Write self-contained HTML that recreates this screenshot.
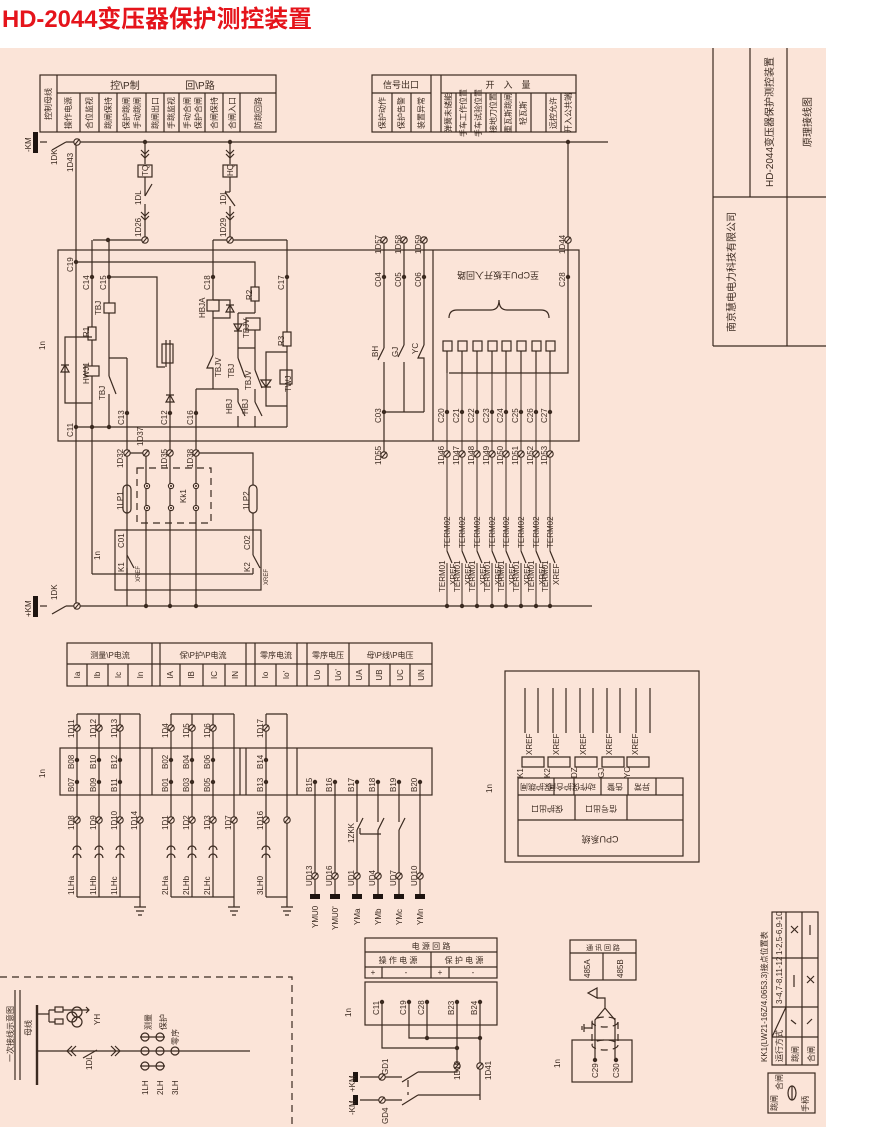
<!DOCTYPE html>
<html><head><meta charset="utf-8">
<style>
html,body{margin:0;padding:0;background:#fff;width:872px;height:1136px;overflow:hidden}
svg{display:block}
svg .s line,svg .s path,svg .s rect,svg .s circle,svg .s polyline,svg .s ellipse{stroke:#3b2a20;stroke-width:1.2;fill:none}
text{fill:#3b2a20;font-family:"Liberation Sans","Noto Sans CJK SC",sans-serif;font-size:8px}
.blk{fill:#1e1410!important}
.d{stroke-dasharray:7 5}
</style></head><body>
<svg width="872" height="1136" viewBox="0 0 872 1136" xmlns="http://www.w3.org/2000/svg">
<defs>
<g id="t"><circle r="3.2" style="fill:#fbe4d8;stroke:#3b2a20;stroke-width:1.1"/><line x1="-2.5" y1="3" x2="2.5" y2="-3" style="stroke:#3b2a20;stroke-width:1.1"/></g>
<g id="n"><circle r="2.2" style="fill:#3b2a20"/></g>
<g id="o"><circle r="2.6" style="fill:#fbe4d8;stroke:#3b2a20;stroke-width:1.1"/><circle r="1" style="fill:#3b2a20"/></g>
</defs>
<rect x="0" y="0" width="872" height="1136" fill="#fff"/>
<rect x="0" y="48" width="826" height="1079" fill="#fbe4d8"/>
<text x="2" y="27" style="font-size:24px;fill:#e5141b;font-weight:bold" textLength="310" lengthAdjust="spacingAndGlyphs">HD-2044变压器保护测控装置</text>

<g class="s">
<rect x="40" y="75" width="236" height="57"/>
<line x1="57" y1="93" x2="276" y2="93"/>
<line x1="57" y1="75" x2="57" y2="132"/>
<line x1="80" y1="93" x2="80" y2="132"/><line x1="99" y1="93" x2="99" y2="132"/><line x1="117" y1="93" x2="117" y2="132"/><line x1="146" y1="93" x2="146" y2="132"/><line x1="164" y1="93" x2="164" y2="132"/><line x1="179" y1="93" x2="179" y2="132"/><line x1="205" y1="93" x2="205" y2="132"/><line x1="223" y1="93" x2="223" y2="132"/><line x1="240" y1="93" x2="240" y2="132"/>
<rect x="372" y="75" width="204" height="57"/>
<line x1="372" y1="93" x2="431" y2="93"/><line x1="441" y1="93" x2="576" y2="93"/>
<line x1="431" y1="75" x2="431" y2="132"/><line x1="441" y1="75" x2="441" y2="132"/>
<line x1="392" y1="93" x2="392" y2="132"/><line x1="411" y1="93" x2="411" y2="132"/>
<line x1="456" y1="93" x2="456" y2="132"/><line x1="471" y1="93" x2="471" y2="132"/><line x1="486" y1="93" x2="486" y2="132"/><line x1="501" y1="93" x2="501" y2="132"/><line x1="516" y1="93" x2="516" y2="132"/><line x1="531" y1="93" x2="531" y2="132"/><line x1="546" y1="93" x2="546" y2="132"/><line x1="561" y1="93" x2="561" y2="132"/>
<line x1="713" y1="48" x2="713" y2="346"/><line x1="750" y1="48" x2="750" y2="197"/><line x1="787" y1="48" x2="787" y2="346"/>
<line x1="713" y1="197" x2="826" y2="197"/><line x1="713" y1="346" x2="826" y2="346"/>

<line x1="40" y1="142" x2="47" y2="142"/>
<line x1="52" y1="150" x2="66" y2="142"/>
<line x1="66" y1="142" x2="608" y2="142"/>
<line x1="76" y1="142" x2="76" y2="606"/>
<line x1="145" y1="142" x2="145" y2="164"/>
<path d="M141 150 l4 4 l4 -4 M141 154 l4 4 l4 -4"/>
<rect x="138" y="165" width="14" height="12"/>
<line x1="145" y1="177" x2="145" y2="196"/><line x1="145" y1="196" x2="152" y2="184"/>
<line x1="145" y1="204" x2="145" y2="240"/>
<path d="M141 212 l4 4 l4 -4 M141 216 l4 4 l4 -4"/>
<line x1="93" y1="240" x2="145" y2="240"/>
<line x1="230" y1="142" x2="230" y2="164"/>
<path d="M226 150 l4 4 l4 -4 M226 154 l4 4 l4 -4"/>
<rect x="223" y="165" width="14" height="12"/>
<line x1="230" y1="177" x2="230" y2="192"/><line x1="225" y1="192" x2="230" y2="192"/><line x1="225" y1="192" x2="235" y2="206"/>
<line x1="230" y1="206" x2="230" y2="240"/>
<path d="M226 212 l4 4 l4 -4 M226 216 l4 4 l4 -4"/>
<line x1="213" y1="240" x2="287" y2="240"/>

<rect x="58" y="250" width="521" height="191"/>
<line x1="433" y1="250" x2="433" y2="441"/>
<line x1="92" y1="240" x2="92" y2="327"/><rect x="88" y="327" width="8" height="13"/><line x1="92" y1="340" x2="92" y2="366"/>
<rect x="85" y="366" width="14" height="10"/><line x1="92" y1="376" x2="92" y2="574"/>
<polyline points="92,337 65,337 65,403 92,403"/><path d="M61 372 l4 -7 l4 7 z M61 365 h8"/>
<line x1="109" y1="240" x2="109" y2="303"/><rect x="104" y="303" width="11" height="10"/><line x1="109" y1="313" x2="109" y2="376"/>
<line x1="109" y1="376" x2="116" y2="394"/><line x1="109" y1="394" x2="109" y2="427"/>
<line x1="109" y1="358" x2="127" y2="358"/><line x1="127" y1="358" x2="127" y2="606"/>
<polyline points="109,277 157,277 157,367 165,367"/>
<rect x="162" y="344" width="11" height="19"/><line x1="166" y1="340" x2="166" y2="367"/>
<line x1="170" y1="340" x2="170" y2="606"/><path d="M166 402 l4 -7 l4 7 z M166 395 h8"/>
<polyline points="76,262 255,262 255,287"/><rect x="251" y="287" width="8" height="14"/><line x1="255" y1="301" x2="255" y2="313"/>
<line x1="238" y1="313" x2="255" y2="313"/><rect x="246" y="318" width="14" height="12"/>
<line x1="238" y1="313" x2="238" y2="348"/><line x1="255" y1="330" x2="255" y2="348"/><line x1="238" y1="348" x2="255" y2="348"/>
<path d="M234 324 l4 7 l4 -7 z M234 331 h8"/>
<line x1="238" y1="348" x2="238" y2="358"/><line x1="238" y1="358" x2="245" y2="377"/>
<line x1="255" y1="348" x2="255" y2="370"/><line x1="255" y1="370" x2="262" y2="388"/>
<line x1="213" y1="240" x2="213" y2="300"/><rect x="207" y="300" width="12" height="11"/><line x1="213" y1="311" x2="213" y2="355"/>
<polyline points="213,300 230,300 230,318 213,318"/><path d="M226 312 l4 -7 l4 7 z M226 305 h8"/>
<polyline points="213,355 207,368 213,368 213,389"/>
<line x1="196" y1="389" x2="238" y2="389"/>
<line x1="196" y1="389" x2="196" y2="606"/>
<line x1="238" y1="389" x2="238" y2="402"/><line x1="238" y1="402" x2="245" y2="416"/><line x1="238" y1="416" x2="238" y2="427"/>
<line x1="255" y1="389" x2="255" y2="402"/><line x1="255" y1="402" x2="262" y2="416"/><line x1="255" y1="416" x2="255" y2="427"/>
<line x1="287" y1="240" x2="287" y2="332"/><rect x="283" y="332" width="8" height="14"/><line x1="287" y1="346" x2="287" y2="427"/>
<polyline points="287,352 266,352 266,406 287,406"/><rect x="280" y="370" width="12" height="14"/>
<path d="M261 380 l5 7 l5 -7 z M261 387 h10"/>
<line x1="76" y1="427" x2="287" y2="427"/>
<line x1="127" y1="453" x2="146" y2="453"/><line x1="146" y1="453" x2="146" y2="606"/>
<polyline points="196,453 253,453 253,485"/><rect x="249" y="485" width="8" height="28" rx="4"/><line x1="253" y1="513" x2="253" y2="535"/>
<rect x="123" y="485" width="8" height="28" rx="4"/>
<rect x="137" y="468" width="74" height="55" class="d"/>
<rect x="115" y="530" width="146" height="60"/>
<line x1="127" y1="555" x2="134" y2="568"/><line x1="127" y1="568" x2="127" y2="574"/>
<line x1="253" y1="535" x2="253" y2="555"/><line x1="253" y1="555" x2="260" y2="568"/><line x1="253" y1="568" x2="253" y2="574"/><line x1="253" y1="574" x2="92" y2="574"/>
<line x1="40" y1="606" x2="47" y2="606"/><line x1="52" y1="614" x2="66" y2="606"/>
<line x1="66" y1="606" x2="592" y2="606"/>
<line x1="384" y1="240" x2="384" y2="348"/><line x1="384" y1="348" x2="378" y2="360"/><line x1="384" y1="362" x2="384" y2="455"/>
<line x1="404" y1="240" x2="404" y2="345"/><line x1="404" y1="345" x2="398" y2="357"/><line x1="404" y1="362" x2="404" y2="412"/>
<line x1="424" y1="240" x2="424" y2="345"/><polyline points="424,345 418,358 424,358 424,412"/>
<line x1="384" y1="412" x2="424" y2="412"/>
<path d="M449 318 q0 -8 8 -8 h34 q8 0 8 -10 q0 10 8 10 h34 q8 0 8 8"/>
<polyline points="568,142 568,373 449,373"/>
</g>

<g class="s">
<rect x="443" y="341" width="9" height="10"/><rect x="458" y="341" width="9" height="10"/><rect x="473" y="341" width="9" height="10"/><rect x="488" y="341" width="9" height="10"/><rect x="502" y="341" width="9" height="10"/><rect x="517" y="341" width="9" height="10"/><rect x="532" y="341" width="9" height="10"/><rect x="546" y="341" width="9" height="10"/>
<path d="M447 351 v22 M462 351 v22 M477 351 v22 M492 351 v22 M506 351 v22 M521 351 v22 M536 351 v22 M550 351 v22"/>
<path d="M447 351 v200 M462 351 v200 M477 351 v200 M492 351 v200 M506 351 v200 M521 351 v200 M536 351 v200 M550 351 v200 M447 563 v43 M462 563 v43 M477 563 v43 M492 563 v43 M506 563 v43 M521 563 v43 M536 563 v43 M550 563 v43" style="stroke-width:1"/>
<path d="M447 551 l5 12 M462 551 l5 12 M477 551 l5 12 M492 551 l5 12 M506 551 l5 12 M521 551 l5 12 M536 551 l5 12 M550 551 l5 12"/>
</g>

<g class="s">
<rect x="67" y="643" width="365" height="43"/>
<line x1="67" y1="664" x2="432" y2="664"/>
<line x1="152" y1="643" x2="152" y2="686"/><line x1="160" y1="643" x2="160" y2="686"/><line x1="246" y1="643" x2="246" y2="686"/><line x1="255" y1="643" x2="255" y2="686"/><line x1="297" y1="643" x2="297" y2="686"/><line x1="307" y1="643" x2="307" y2="686"/><line x1="349" y1="643" x2="349" y2="686"/>
<path d="M87 664v22 M108 664v22 M128 664v22 M180 664v22 M203 664v22 M225 664v22 M276 664v22 M328 664v22 M369 664v22 M390 664v22 M410 664v22"/>
<rect x="60" y="748" width="372" height="47"/>
<path d="M152 748v47 M240 748v47 M246 748v47 M297 748v47"/>
<path d="M77 714v183 M99 714v183 M120 714v183 M140 714v183 M77 714h63 M77 897h63"/>
<path d="M171 714v183 M192 714v183 M213 714v183 M234 714v183 M171 714h63 M171 897h63"/>
<path d="M266 714v183 M287 714v183 M266 714h21 M266 897h21"/>
<path d="M140 897v10 M134 907h12 M136 911h8 M138 915h4 M234 897v10 M228 907h12 M230 911h8 M232 915h4 M287 897v10 M281 907h12 M283 911h8 M285 915h4"/>
<path d="M73 850 a4 4 0 0 1 8 0 M73 858 a4 4 0 0 1 8 0 M95 850 a4 4 0 0 1 8 0 M95 858 a4 4 0 0 1 8 0 M116 850 a4 4 0 0 1 8 0 M116 858 a4 4 0 0 1 8 0 M167 850 a4 4 0 0 1 8 0 M167 858 a4 4 0 0 1 8 0 M188 850 a4 4 0 0 1 8 0 M188 858 a4 4 0 0 1 8 0 M209 850 a4 4 0 0 1 8 0 M209 858 a4 4 0 0 1 8 0 M262 850 a4 4 0 0 1 8 0 M262 858 a4 4 0 0 1 8 0"/>
<path d="M315 782v115 M335 782v115 M357 782v40 M357 830v67 M378 782v40 M378 830v67 M399 782v40 M399 830v67 M420 782v115"/>
<path d="M357 830 l6 -12 M378 830 l6 -12 M399 830 l6 -12 M360 834 h21 M360 834 v-6"/>
<rect x="505" y="671" width="194" height="191"/>
<rect x="518" y="778" width="165" height="78"/>
<path d="M518 795h165 M518 820h165 M554 778v17 M574 778v17 M601 778v17 M628 778v17 M656 778v17 M575 795v25 M627 795v25"/>
<path d="M525 688v45 M538 688v45 M553 688v45 M566 688v45 M580 688v45 M593 688v45 M607 688v45 M620 688v45 M636 688v45 M650 688v45"/>
<path d="M522 757h22v10h-22z M548 757h22v10h-22z M575 757h22v10h-22z M602 757h22v10h-22z M627 757h22v10h-22z" />
<path d="M0 977 H292 V1127" class="d"/>
<line x1="37" y1="1005" x2="37" y2="1085" style="stroke-width:2.4"/>
<line x1="37" y1="1051" x2="250" y2="1051"/>
<line x1="15" y1="990" x2="15" y2="1080"/><line x1="20" y1="990" x2="20" y2="1080"/>
<path d="M37 1014 h12 M49 1010 v12 M49 1010 h6 M49 1022 h6"/><rect x="55" y="1007" width="8" height="5"/><rect x="55" y="1019" width="8" height="5"/>
<circle cx="72" cy="1017" r="5"/><circle cx="77" cy="1012" r="5"/><circle cx="77" cy="1022" r="5"/>
<path d="M63 1010 h26 M86 1007 l3 3 l-3 3"/>
<path d="M72 1046 l-5 5 l5 5 M76 1046 l-5 5 l5 5 M83 1058 l14 -8 M111 1046 l5 5 l-5 5 M115 1046 l5 5 l-5 5"/>
<circle cx="145" cy="1051" r="4"/><circle cx="160" cy="1051" r="4"/><circle cx="175" cy="1051" r="4"/>
<circle cx="145" cy="1037" r="4"/><circle cx="160" cy="1037" r="4"/><circle cx="145" cy="1066" r="4"/><circle cx="160" cy="1066" r="4"/>
<path d="M140 1037h25 M140 1066h25"/>
<rect x="365" y="938" width="132" height="40"/>
<path d="M365 952h132 M365 967h132 M431 952v26 M382 967v11 M449 967v11"/>
<rect x="365" y="982" width="132" height="43"/>
<path d="M382 1002v46h75 M409 1002v36h71 M427 1002v36 M457 1002v64 M480 1002v98"/>
<path d="M360 1077h22 M382 1077h20 M402 1082 l16 -10 M418 1072 h39 v-6"/>
<path d="M360 1100h22 M382 1100h20 M402 1105 l16 -10 M418 1095 h62"/>
<path d="M408 1080 v15" class="d"/>
<rect x="570" y="940" width="66" height="40"/>
<path d="M570 953h66 M603 953v27"/>
<rect x="572" y="1040" width="60" height="42"/>
<path d="M595 1060v-40 l10 -12 l10 12 v40 M605 1008 v-10 h-8"/>
<path d="M588 993 l9 5 l0 -10 z"/>
<ellipse cx="605" cy="1022" rx="13" ry="5" class="d"/><ellipse cx="605" cy="1045" rx="13" ry="5" class="d"/>
<path d="M592 1022 v23 M618 1022 v23" class="d"/>
<path d="M592 1028 h-8 M584 1024 v8 M582 1026 v4"/>
<rect x="772" y="912" width="46" height="153"/>
<path d="M786 912v153 M802 912v153 M772 958h46 M772 1007h46 M772 1037h46 M772 1037 L786 1007"/>
<path d="M791 926 l7 7 M798 926 l-7 7 M810 925 v10 M794 975 v12 M807 976 l7 7 M814 976 l-7 7 M791 1020 l5 4 M807 1024 l5 -5"/>
<rect x="768" y="1073" width="47" height="40"/>
<ellipse cx="792" cy="1093" rx="4" ry="7"/><line x1="792" y1="1086" x2="792" y2="1100"/>
</g>

<g>
<rect x="33" y="132" width="5" height="21" class="blk"/><rect x="33" y="596" width="5" height="21" class="blk"/>
<rect x="310" y="894" width="10" height="5" class="blk"/><rect x="330" y="894" width="10" height="5" class="blk"/><rect x="352" y="894" width="10" height="5" class="blk"/><rect x="373" y="894" width="10" height="5" class="blk"/><rect x="394" y="894" width="10" height="5" class="blk"/><rect x="415" y="894" width="10" height="5" class="blk"/>
<rect x="353" y="1072" width="5" height="10" class="blk"/><rect x="353" y="1095" width="5" height="10" class="blk"/>
</g>

<use href="#t" x="77" y="142"/><use href="#t" x="145" y="240"/><use href="#t" x="230" y="240"/>
<use href="#t" x="384" y="240"/><use href="#t" x="404" y="240"/><use href="#t" x="424" y="240"/><use href="#t" x="568" y="240"/>
<use href="#t" x="127" y="453"/><use href="#t" x="146" y="453"/><use href="#t" x="170" y="453"/><use href="#t" x="196" y="453"/>
<use href="#t" x="384" y="455"/>
<use href="#t" x="447" y="454"/><use href="#t" x="462" y="454"/><use href="#t" x="477" y="454"/><use href="#t" x="492" y="454"/><use href="#t" x="506" y="454"/><use href="#t" x="521" y="454"/><use href="#t" x="536" y="454"/><use href="#t" x="550" y="454"/>
<use href="#t" x="77" y="606"/>
<use href="#t" x="77" y="728"/><use href="#t" x="99" y="728"/><use href="#t" x="120" y="728"/><use href="#t" x="171" y="728"/><use href="#t" x="192" y="728"/><use href="#t" x="213" y="728"/><use href="#t" x="266" y="728"/>
<use href="#t" x="77" y="820"/><use href="#t" x="99" y="820"/><use href="#t" x="120" y="820"/><use href="#t" x="140" y="820"/><use href="#t" x="171" y="820"/><use href="#t" x="192" y="820"/><use href="#t" x="213" y="820"/><use href="#t" x="234" y="820"/><use href="#t" x="266" y="820"/><use href="#t" x="287" y="820"/>
<use href="#t" x="315" y="876"/><use href="#t" x="335" y="876"/><use href="#t" x="357" y="876"/><use href="#t" x="378" y="876"/><use href="#t" x="399" y="876"/><use href="#t" x="420" y="876"/>
<use href="#t" x="457" y="1066"/><use href="#t" x="480" y="1066"/><use href="#t" x="382" y="1077"/><use href="#t" x="382" y="1100"/>
<use href="#o" x="147" y="486"/><use href="#o" x="171" y="486"/><use href="#o" x="196" y="486"/><use href="#o" x="147" y="508"/><use href="#o" x="171" y="508"/><use href="#o" x="196" y="508"/>
<use href="#n" x="145" y="142"/><use href="#n" x="230" y="142"/><use href="#n" x="568" y="142"/><use href="#n" x="108" y="240"/>
<use href="#n" x="76" y="262"/><use href="#n" x="92" y="277"/><use href="#n" x="109" y="277"/><use href="#n" x="213" y="277"/><use href="#n" x="287" y="277"/>
<use href="#n" x="384" y="277"/><use href="#n" x="404" y="277"/><use href="#n" x="424" y="277"/><use href="#n" x="568" y="277"/>
<use href="#n" x="76" y="427"/><use href="#n" x="92" y="427"/><use href="#n" x="109" y="427"/><use href="#n" x="127" y="413"/><use href="#n" x="170" y="413"/><use href="#n" x="196" y="413"/><use href="#n" x="384" y="412"/>
<use href="#n" x="447" y="412"/><use href="#n" x="462" y="412"/><use href="#n" x="477" y="412"/><use href="#n" x="492" y="412"/><use href="#n" x="506" y="412"/><use href="#n" x="521" y="412"/><use href="#n" x="536" y="412"/><use href="#n" x="550" y="412"/>
<use href="#n" x="146" y="606"/><use href="#n" x="170" y="606"/><use href="#n" x="196" y="606"/><use href="#n" x="447" y="606"/><use href="#n" x="462" y="606"/><use href="#n" x="477" y="606"/><use href="#n" x="492" y="606"/><use href="#n" x="506" y="606"/><use href="#n" x="521" y="606"/><use href="#n" x="536" y="606"/><use href="#n" x="550" y="606"/>
<use href="#n" x="77" y="760"/><use href="#n" x="99" y="760"/><use href="#n" x="120" y="760"/><use href="#n" x="171" y="760"/><use href="#n" x="192" y="760"/><use href="#n" x="213" y="760"/><use href="#n" x="266" y="760"/>
<use href="#n" x="77" y="782"/><use href="#n" x="99" y="782"/><use href="#n" x="120" y="782"/><use href="#n" x="171" y="782"/><use href="#n" x="192" y="782"/><use href="#n" x="213" y="782"/><use href="#n" x="266" y="782"/>
<use href="#n" x="315" y="782"/><use href="#n" x="335" y="782"/><use href="#n" x="357" y="782"/><use href="#n" x="378" y="782"/><use href="#n" x="399" y="782"/><use href="#n" x="420" y="782"/>
<use href="#n" x="382" y="1002"/><use href="#n" x="409" y="1002"/><use href="#n" x="427" y="1002"/><use href="#n" x="457" y="1002"/><use href="#n" x="480" y="1002"/><use href="#n" x="427" y="1038"/><use href="#n" x="480" y="1038"/><use href="#n" x="457" y="1048"/>
<use href="#n" x="595" y="1060"/><use href="#n" x="616" y="1060"/>

<text x="125" y="89" style="font-size:10px" text-anchor="middle">控\P制</text>
<text x="200" y="89" style="font-size:10px" text-anchor="middle">回\P路</text>
<g style="font-size:8.5px" text-anchor="middle">
<text transform="translate(51,104) rotate(-90)">控制母线</text>
<text transform="translate(71,113) rotate(-90)">操作电源</text>
<text transform="translate(92,113) rotate(-90)">合位监视</text>
<text transform="translate(111,113) rotate(-90)">跳闸保持</text>
<text transform="translate(129,113) rotate(-90)">保护跳闸</text>
<text transform="translate(140,113) rotate(-90)">手动跳闸</text>
<text transform="translate(158,113) rotate(-90)">跳闸出口</text>
<text transform="translate(174,113) rotate(-90)">手跳监视</text>
<text transform="translate(190,113) rotate(-90)">手动合闸</text>
<text transform="translate(201,113) rotate(-90)">保护合闸</text>
<text transform="translate(217,113) rotate(-90)">合闸保持</text>
<text transform="translate(235,113) rotate(-90)">合闸入口</text>
<text transform="translate(261,113) rotate(-90)">防跳回路</text>
<text x="401" y="88" style="font-size:9px">信号出口</text>
<text x="508" y="88" style="font-size:9px">开　入　量</text>
<text transform="translate(385,113) rotate(-90)">保护动作</text>
<text transform="translate(404,113) rotate(-90)">保护告警</text>
<text transform="translate(424,113) rotate(-90)">装置异常</text>
</g>
<g style="font-size:7px" text-anchor="middle">
<text transform="translate(451,113) rotate(-90)">弹簧未储能</text>
<text transform="translate(466,113) rotate(-90)">手车工作位置</text>
<text transform="translate(481,113) rotate(-90)">手车试验位置</text>
<text transform="translate(496,113) rotate(-90)">接地刀位置</text>
<text transform="translate(511,113) rotate(-90)">重瓦斯跳闸</text>
<text transform="translate(526,113) rotate(-90)">轻瓦斯</text>
<text transform="translate(556,113) rotate(-90)">远控允许</text>
<text transform="translate(571,113) rotate(-90)">开入公共端</text>
</g>
<g text-anchor="middle">
<text transform="translate(773,122) rotate(-90)" style="font-size:10px">HD-2044变压器保护测控装置</text>
<text transform="translate(811,122) rotate(-90)" style="font-size:10px">原理接线图</text>
<text transform="translate(735,272) rotate(-90)" style="font-size:10px">南京慧电电力科技有限公司</text>
</g>

<g style="font-size:8px">
<text transform="translate(31,152) rotate(-90)">-KM</text>
<text transform="translate(31,617) rotate(-90)">+KM</text>
<text transform="translate(57,165) rotate(-90)">1DK</text>
<text transform="translate(57,600) rotate(-90)">1DK</text>
<text transform="translate(73,172) rotate(-90)">1D43</text>
<text transform="translate(141,205) rotate(-90)">1DL</text><text transform="translate(226,205) rotate(-90)">1DL</text>
<text transform="translate(148,176) rotate(-90)">TQ</text><text transform="translate(233,176) rotate(-90)">HQ</text>
<text transform="translate(141,237) rotate(-90)">1D26</text><text transform="translate(226,237) rotate(-90)">1D29</text>
<text transform="translate(73,272) rotate(-90)">C19</text>
<text transform="translate(89,290) rotate(-90)">C14</text><text transform="translate(106,290) rotate(-90)">C15</text>
<text transform="translate(210,290) rotate(-90)">C18</text><text transform="translate(284,290) rotate(-90)">C17</text>
<text transform="translate(89,337) rotate(-90)">R1</text><text transform="translate(252,300) rotate(-90)">R2</text><text transform="translate(284,346) rotate(-90)">R3</text>
<text transform="translate(101,315) rotate(-90)">TBJ</text>
<text transform="translate(205,318) rotate(-90)">HBJA</text>
<text transform="translate(89,384) rotate(-90)">HWJ1</text>
<text transform="translate(105,400) rotate(-90)">TBJ</text>
<text transform="translate(124,425) rotate(-90)">C13</text><text transform="translate(167,425) rotate(-90)">C12</text><text transform="translate(193,425) rotate(-90)">C16</text>
<text transform="translate(73,437) rotate(-90)">C11</text>
<text transform="translate(221,377) rotate(-90)">TBJV</text><text transform="translate(234,378) rotate(-90)">TBJ</text>
<text transform="translate(249,338) rotate(-90)">TBJV</text><text transform="translate(251,390) rotate(-90)">TBJV</text>
<text transform="translate(291,392) rotate(-90)">TWJ</text>
<text transform="translate(232,414) rotate(-90)">HBJ</text><text transform="translate(248,414) rotate(-90)">HBJ</text>
<text transform="translate(45,350) rotate(-90)">1n</text>
<text transform="translate(123,468) rotate(-90)">1D32</text><text transform="translate(143,446) rotate(-90)">1D37</text>
<text transform="translate(167,468) rotate(-90)">1D35</text><text transform="translate(193,468) rotate(-90)">1D38</text>
<text transform="translate(123,510) rotate(-90)">1LP1</text><text transform="translate(249,510) rotate(-90)">1LP2</text>
<text transform="translate(186,503) rotate(-90)">Kk1</text>
<text transform="translate(100,560) rotate(-90)">1n</text>
<text transform="translate(124,548) rotate(-90)">C01</text><text transform="translate(250,550) rotate(-90)">C02</text>
<text transform="translate(124,572) rotate(-90)">K1</text><text transform="translate(250,572) rotate(-90)">K2</text>
<text transform="translate(140,582) rotate(-90)" style="font-size:6px">XREF</text><text transform="translate(268,585) rotate(-90)" style="font-size:6px">XREF</text>
<text transform="translate(381,254) rotate(-90)">1D57</text><text transform="translate(401,254) rotate(-90)">1D58</text><text transform="translate(421,254) rotate(-90)">1D59</text><text transform="translate(565,254) rotate(-90)">1D44</text>
<text transform="translate(381,287) rotate(-90)">C04</text><text transform="translate(401,287) rotate(-90)">C05</text><text transform="translate(421,287) rotate(-90)">C06</text><text transform="translate(565,287) rotate(-90)">C28</text>
<text transform="translate(378,357) rotate(-90)">BH</text><text transform="translate(398,357) rotate(-90)">GJ</text><text transform="translate(418,354) rotate(-90)">YC</text>
<text transform="translate(381,423) rotate(-90)">C03</text><text transform="translate(381,465) rotate(-90)">1D55</text>
</g>
<text transform="translate(498,272) rotate(180)" text-anchor="middle" style="font-size:9px">至CPU主板开入回路</text>
<g style="font-size:8px">
<text transform="translate(444,423) rotate(-90)">C20</text><text transform="translate(459,423) rotate(-90)">C21</text><text transform="translate(474,423) rotate(-90)">C22</text><text transform="translate(489,423) rotate(-90)">C23</text><text transform="translate(503,423) rotate(-90)">C24</text><text transform="translate(518,423) rotate(-90)">C25</text><text transform="translate(533,423) rotate(-90)">C26</text><text transform="translate(547,423) rotate(-90)">C27</text>
<text transform="translate(444,465) rotate(-90)">1D46</text><text transform="translate(459,465) rotate(-90)">1D47</text><text transform="translate(474,465) rotate(-90)">1D48</text><text transform="translate(489,465) rotate(-90)">1D49</text><text transform="translate(503,465) rotate(-90)">1D50</text><text transform="translate(518,465) rotate(-90)">1D51</text><text transform="translate(533,465) rotate(-90)">1D52</text><text transform="translate(547,465) rotate(-90)">1D53</text>
</g>
<g style="font-size:5px">
<text transform="translate(450,548) rotate(-90)">TERM02</text><text transform="translate(465,548) rotate(-90)">TERM02</text><text transform="translate(480,548) rotate(-90)">TERM02</text><text transform="translate(495,548) rotate(-90)">TERM02</text><text transform="translate(509,548) rotate(-90)">TERM02</text><text transform="translate(524,548) rotate(-90)">TERM02</text><text transform="translate(539,548) rotate(-90)">TERM02</text><text transform="translate(553,548) rotate(-90)">TERM02</text>
<text transform="translate(445,592) rotate(-90)">TERM01</text><text transform="translate(460,592) rotate(-90)">TERM01</text><text transform="translate(475,592) rotate(-90)">TERM01</text><text transform="translate(490,592) rotate(-90)">TERM01</text><text transform="translate(504,592) rotate(-90)">TERM01</text><text transform="translate(519,592) rotate(-90)">TERM01</text><text transform="translate(534,592) rotate(-90)">TERM01</text><text transform="translate(548,592) rotate(-90)">TERM01</text>
</g>
<g style="font-size:6px">
<text transform="translate(456,585) rotate(-90)">XREF</text><text transform="translate(471,585) rotate(-90)">XREF</text><text transform="translate(486,585) rotate(-90)">XREF</text><text transform="translate(501,585) rotate(-90)">XREF</text><text transform="translate(515,585) rotate(-90)">XREF</text><text transform="translate(530,585) rotate(-90)">XREF</text><text transform="translate(545,585) rotate(-90)">XREF</text><text transform="translate(559,585) rotate(-90)">XREF</text>
</g>

<g text-anchor="middle" style="font-size:9.5px">
<text x="110" y="658">测量\P电流</text><text x="203" y="658">保\P护\P电流</text><text x="276" y="658">零序电流</text><text x="328" y="658">零序电压</text><text x="390" y="658">母\P线\P电压</text>
</g>
<g text-anchor="middle" style="font-size:7.5px">
<text transform="translate(80,675) rotate(-90)">Ia</text><text transform="translate(100,675) rotate(-90)">Ib</text><text transform="translate(121,675) rotate(-90)">Ic</text><text transform="translate(143,675) rotate(-90)">In</text>
<text transform="translate(173,675) rotate(-90)">IA</text><text transform="translate(194,675) rotate(-90)">IB</text><text transform="translate(217,675) rotate(-90)">IC</text><text transform="translate(238,675) rotate(-90)">IN</text>
<text transform="translate(268,675) rotate(-90)">Io</text><text transform="translate(289,675) rotate(-90)">Io'</text>
<text transform="translate(320,675) rotate(-90)">Uo</text><text transform="translate(341,675) rotate(-90)">Uo'</text>
<text transform="translate(362,675) rotate(-90)">UA</text><text transform="translate(382,675) rotate(-90)">UB</text><text transform="translate(403,675) rotate(-90)">UC</text><text transform="translate(424,675) rotate(-90)">UN</text>
</g>
<g style="font-size:8px">
<text transform="translate(45,778) rotate(-90)">1n</text>
<text transform="translate(74,738) rotate(-90)">1D11</text><text transform="translate(96,738) rotate(-90)">1D12</text><text transform="translate(117,738) rotate(-90)">1D13</text>
<text transform="translate(168,738) rotate(-90)">1D4</text><text transform="translate(189,738) rotate(-90)">1D5</text><text transform="translate(210,738) rotate(-90)">1D6</text><text transform="translate(263,738) rotate(-90)">1D17</text>
<text transform="translate(74,769) rotate(-90)">B08</text><text transform="translate(96,769) rotate(-90)">B10</text><text transform="translate(117,769) rotate(-90)">B12</text><text transform="translate(168,769) rotate(-90)">B02</text><text transform="translate(189,769) rotate(-90)">B04</text><text transform="translate(210,769) rotate(-90)">B06</text><text transform="translate(263,769) rotate(-90)">B14</text>
<text transform="translate(74,792) rotate(-90)">B07</text><text transform="translate(96,792) rotate(-90)">B09</text><text transform="translate(117,792) rotate(-90)">B11</text><text transform="translate(168,792) rotate(-90)">B01</text><text transform="translate(189,792) rotate(-90)">B03</text><text transform="translate(210,792) rotate(-90)">B05</text><text transform="translate(263,792) rotate(-90)">B13</text>
<text transform="translate(312,792) rotate(-90)">B15</text><text transform="translate(332,792) rotate(-90)">B16</text><text transform="translate(354,792) rotate(-90)">B17</text><text transform="translate(375,792) rotate(-90)">B18</text><text transform="translate(396,792) rotate(-90)">B19</text><text transform="translate(417,792) rotate(-90)">B20</text>
<text transform="translate(74,830) rotate(-90)">1D8</text><text transform="translate(96,830) rotate(-90)">1D9</text><text transform="translate(117,830) rotate(-90)">1D10</text><text transform="translate(137,830) rotate(-90)">1D14</text>
<text transform="translate(168,830) rotate(-90)">1D1</text><text transform="translate(189,830) rotate(-90)">1D2</text><text transform="translate(210,830) rotate(-90)">1D3</text><text transform="translate(231,830) rotate(-90)">1D7</text><text transform="translate(263,830) rotate(-90)">1D16</text>
<text transform="translate(354,843) rotate(-90)">1ZKK</text>
<text transform="translate(74,895) rotate(-90)">1LHa</text><text transform="translate(96,895) rotate(-90)">1LHb</text><text transform="translate(117,895) rotate(-90)">1LHc</text>
<text transform="translate(168,895) rotate(-90)">2LHa</text><text transform="translate(189,895) rotate(-90)">2LHb</text><text transform="translate(210,895) rotate(-90)">2LHc</text><text transform="translate(263,895) rotate(-90)">3LH0</text>
<text transform="translate(312,886) rotate(-90)">UD13</text><text transform="translate(332,886) rotate(-90)">UD16</text><text transform="translate(354,886) rotate(-90)">UD1</text><text transform="translate(375,886) rotate(-90)">UD4</text><text transform="translate(396,886) rotate(-90)">UD7</text><text transform="translate(417,886) rotate(-90)">UD10</text>
<text transform="translate(318,928) rotate(-90)">YMU0</text><text transform="translate(338,930) rotate(-90)">YMU0'</text><text transform="translate(360,925) rotate(-90)">YMa</text><text transform="translate(381,925) rotate(-90)">YMb</text><text transform="translate(402,925) rotate(-90)">YMc</text><text transform="translate(423,925) rotate(-90)">YMn</text>
</g>
<g style="font-size:6px">
<text transform="translate(492,793) rotate(-90)" style="font-size:8px">1n</text>
<text transform="translate(523,778) rotate(-90)">K1</text><text transform="translate(550,778) rotate(-90)">K2</text><text transform="translate(577,778) rotate(-90)">DZ</text><text transform="translate(604,778) rotate(-90)">GJ</text><text transform="translate(630,778) rotate(-90)">YC</text>
<text transform="translate(532,755) rotate(-90)">XREF</text><text transform="translate(559,755) rotate(-90)">XREF</text><text transform="translate(586,755) rotate(-90)">XREF</text><text transform="translate(612,755) rotate(-90)">XREF</text><text transform="translate(638,755) rotate(-90)">XREF</text>
</g>
<g style="font-size:4.5px" text-anchor="middle">
<text transform="translate(536,784) rotate(180)">保护跳闸</text><text transform="translate(564,784) rotate(180)">保护合闸</text><text transform="translate(588,784) rotate(180)">动作</text><text transform="translate(615,784) rotate(180)">告警</text><text transform="translate(642,784) rotate(180)">异常</text>
</g>
<g style="font-size:6px" text-anchor="middle">
<text transform="translate(547,806) rotate(180)">保护出口</text><text transform="translate(601,806) rotate(180)">信号出口</text>
</g>
<text transform="translate(600,836) rotate(180)" text-anchor="middle" style="font-size:9px">CPU系统</text>

<g style="font-size:8px">
<text transform="translate(13,1062) rotate(-90)">一次接线示意图</text>
<text transform="translate(31,1036) rotate(-90)">母线</text>
<text transform="translate(100,1025) rotate(-90)">YH</text>
<text transform="translate(92,1070) rotate(-90)">1DL</text>
<text transform="translate(148,1095) rotate(-90)">1LH</text><text transform="translate(163,1095) rotate(-90)">2LH</text><text transform="translate(178,1095) rotate(-90)">3LH</text>
<text transform="translate(151,1030) rotate(-90)">测量</text><text transform="translate(166,1030) rotate(-90)">保护</text><text transform="translate(178,1045) rotate(-90)">零序</text>
<text transform="translate(351,1017) rotate(-90)">1n</text>
<text transform="translate(379,1015) rotate(-90)">C11</text><text transform="translate(406,1015) rotate(-90)">C19</text><text transform="translate(424,1015) rotate(-90)">C28</text><text transform="translate(454,1015) rotate(-90)">B23</text><text transform="translate(477,1015) rotate(-90)">B24</text>
<text transform="translate(460,1080) rotate(-90)">1D19</text><text transform="translate(491,1080) rotate(-90)">1D41</text>
<text transform="translate(388,1075) rotate(-90)">GD1</text><text transform="translate(388,1124) rotate(-90)">GD4</text>
<text transform="translate(355,1092) rotate(-90)">+KM</text><text transform="translate(355,1115) rotate(-90)">-KM</text>
<text transform="translate(560,1068) rotate(-90)">1n</text>
<text transform="translate(598,1078) rotate(-90)">C29</text><text transform="translate(619,1078) rotate(-90)">C30</text>
<text transform="translate(590,978) rotate(-90)">485A</text><text transform="translate(623,978) rotate(-90)">485B</text>
</g>
<text x="603" y="950" text-anchor="middle" style="font-size:7px">通 讯 回 路</text>
<g style="font-size:6.5px" text-anchor="middle">
<text x="431" y="949">电 源 回 路</text>
<text x="398" y="963">操 作 电 源</text><text x="464" y="963">保 护 电 源</text>
<text x="373" y="975">+</text><text x="406" y="975">-</text><text x="440" y="975">+</text><text x="473" y="975">-</text>
</g>
<g style="font-size:6.5px">
<text transform="translate(767,1062) rotate(-90)">KK1(LW21-16Z/4.0653.3)接点位置表</text>
<text transform="translate(782,1062) rotate(-90)">运行方式</text>
<text transform="translate(782,1004) rotate(-90)">3-4,7-8,11-12</text><text transform="translate(782,955) rotate(-90)">1-2,5-6,9-10</text>
<text transform="translate(798,1062) rotate(-90)">跳闸</text><text transform="translate(814,1062) rotate(-90)">合闸</text>
<text transform="translate(777,1111) rotate(-90)">跳闸</text><text transform="translate(782,1090) rotate(-90)">合闸</text><text transform="translate(808,1112) rotate(-90)">手柄</text>
</g>
</svg>
</body></html>
